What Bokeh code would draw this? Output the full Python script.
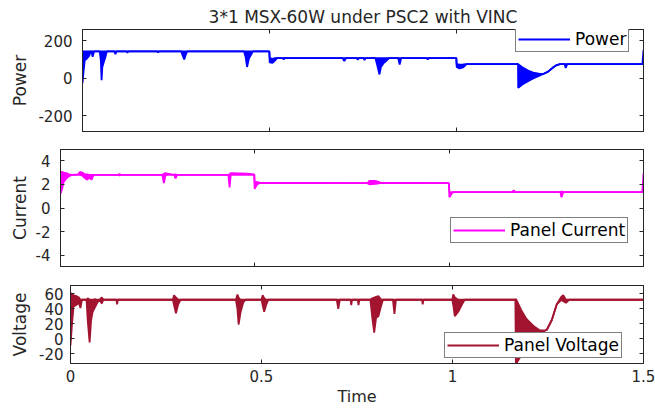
from bokeh.plotting import figure
from bokeh.models import (Range1d, LinearAxis, Legend, LegendItem, FixedTicker,
                          NumeralTickFormatter, ColumnDataSource)
from bokeh.layouts import column, row
from bokeh.embed import file_html
from bokeh.resources import INLINE

# ---------------- data ----------------
title_text = "3*1 MSX-60W under PSC2 with VINC"
time_ticks = [0, 0.5, 1, 1.5]
power_ticks = [-200, 0, 200]
current_ticks = [-4, -2, 0, 2, 4]
voltage_ticks = [-20, 0, 20, 40, 60]

# Each signal: sample times with the upper and lower envelope of the trace
power_t = [0.000, 0.003, 0.006, 0.012, 0.018, 0.022, 0.024, 0.027, 0.031, 0.046,
           0.049, 0.051, 0.053, 0.057, 0.061, 0.065, 0.085, 0.088, 0.091, 0.118,
           0.120, 0.122, 0.200, 0.202, 0.204, 0.264, 0.268, 0.272, 0.276, 0.280,
           0.432, 0.436, 0.440, 0.445, 0.452, 0.456, 0.4995, 0.5005, 0.508, 0.515,
           0.520, 0.536, 0.538, 0.540, 0.695, 0.700, 0.705, 0.733, 0.736, 0.739,
           0.751, 0.754, 0.757, 0.783, 0.788, 0.794, 0.798, 0.805, 0.812, 0.820,
           0.844, 0.848, 0.852, 0.920, 0.923, 0.926, 0.9995, 1.0005, 1.008, 1.018,
           1.027, 1.1645, 1.165, 1.175, 1.190, 1.205, 1.220, 1.232, 1.245, 1.259,
           1.268, 1.277, 1.289, 1.292, 1.296, 1.497, 1.500]
power_hi = [143, 143, 143, 143, 143, 143, 143, 143, 143, 143,
            143, 143, 143, 143, 143, 143, 143, 143, 143, 143,
            143, 143, 143, 143, 143, 143, 143, 143, 143, 143,
            143, 143, 143, 143, 143, 143, 143, 107, 103, 107,
            107, 107, 107, 107, 107, 107, 107, 107, 107, 107,
            107, 107, 107, 107, 107, 107, 107, 107, 107, 107,
            107, 107, 107, 107, 107, 107, 107, 75, 72, 73,
            75, 75, 75, 60, 42, 30, 24, 22, 35, 58,
            70, 75, 75, 75, 75, 75, 150]
power_lo = [-27, 40, 95, 105, 120, 143, 143, 114, 143, 143,
            95, -11, 60, 87, 110, 143, 143, 128, 143, 143,
            135, 143, 143, 137, 143, 143, 120, 100, 125, 143,
            143, 115, 60, 105, 130, 143, 143, 84, 82, 95,
            107, 107, 100, 107, 107, 91, 107, 107, 98, 107,
            107, 97, 107, 107, 70, 20, 60, 80, 92, 107,
            107, 73, 107, 107, 100, 107, 107, 60, 52, 58,
            75, 75, -52, -35, -18, -2, 12, 22, 35, 58,
            70, 75, 75, 55, 75, 75, 75]

current_t = [0.000, 0.004, 0.008, 0.015, 0.022, 0.030, 0.045, 0.050, 0.056, 0.062,
             0.068, 0.075, 0.080, 0.085, 0.150, 0.152, 0.154, 0.262, 0.266, 0.270,
             0.275, 0.293, 0.296, 0.300, 0.432, 0.435, 0.438, 0.480, 0.4985, 0.4995,
             0.506, 0.512, 0.790, 0.795, 0.810, 0.823, 0.9995, 1.0005, 1.007, 1.012,
             1.163, 1.166, 1.170, 1.286, 1.289, 1.293, 1.297, 1.497, 1.500]
current_hi = [3.05, 3.05, 3.00, 2.95, 2.85, 2.80, 2.85, 3.05, 3.00, 2.85,
              2.85, 2.80, 2.80, 2.80, 2.80, 2.90, 2.80, 2.80, 2.90, 2.95,
              2.90, 2.80, 2.85, 2.80, 2.80, 2.85, 2.95, 2.90, 2.85, 2.15,
              2.20, 2.15, 2.10, 2.30, 2.30, 2.15, 2.10, 1.35, 1.35, 1.35,
              1.35, 1.50, 1.35, 1.35, 1.40, 1.35, 1.35, 1.35, 2.93]
current_lo = [1.20, 1.60, 2.20, 2.50, 2.70, 2.80, 2.80, 2.80, 2.75, 2.55,
              2.40, 2.55, 2.40, 2.80, 2.80, 2.75, 2.80, 2.80, 2.10, 2.75,
              2.80, 2.80, 2.50, 2.80, 2.80, 1.75, 2.80, 2.80, 2.80, 1.62,
              2.00, 2.10, 2.10, 2.00, 2.05, 2.10, 2.10, 0.91, 1.25, 1.35,
              1.35, 1.35, 1.35, 1.35, 0.91, 1.30, 1.35, 1.35, 1.35]

voltage_t = [0.000, 0.004, 0.008, 0.015, 0.022, 0.026, 0.030, 0.042, 0.045, 0.050,
             0.054, 0.058, 0.064, 0.070, 0.076, 0.082, 0.086, 0.120, 0.122, 0.124,
             0.268, 0.271, 0.276, 0.282, 0.288, 0.433, 0.437, 0.440, 0.445, 0.452,
             0.458, 0.500, 0.503, 0.507, 0.512, 0.518, 0.697, 0.701, 0.705, 0.733,
             0.735, 0.737, 0.752, 0.754, 0.756, 0.785, 0.790, 0.795, 0.800, 0.806,
             0.812, 0.818, 0.844, 0.848, 0.852, 0.920, 0.922, 0.924, 0.9995, 1.002,
             1.006, 1.015, 1.025, 1.032, 1.1645, 1.166, 1.180, 1.194, 1.212, 1.229,
             1.240, 1.247, 1.260, 1.273, 1.285, 1.290, 1.297, 1.305, 1.500]
voltage_hi = [61, 60, 58, 57, 55, 52, 52, 52, 54, 52,
              52, 52, 53, 52, 52, 55, 52, 52, 52, 52,
              52, 58, 55, 52, 52, 52, 59, 55, 52, 52,
              52, 52, 58, 54, 52, 52, 52, 52, 52, 52,
              52, 52, 52, 52, 52, 52, 54, 55, 56, 57,
              53, 52, 52, 52, 52, 52, 52, 52, 52, 59,
              55, 52, 52, 52, 52, 53, 38, 26, 17, 11,
              11, 12, 25, 46, 56, 58, 52, 52, 52]
voltage_lo = [-9, 20, 43, 45, 48, 41, 52, 52, 25, -5,
              25, 36, 42, 48, 52, 47, 52, 52, 46, 52,
              52, 45, 34, 46, 52, 52, 40, 19, 35, 48,
              52, 52, 45, 36, 45, 52, 52, 40, 52, 52,
              45, 52, 52, 45, 52, 52, 28, 8, 28, 30,
              42, 52, 52, 33, 52, 52, 46, 52, 52, 45,
              30, 36, 46, 52, 52, -34, -22, -12, -3, 4,
              10, 12, 25, 46, 52, 50, 48, 52, 52]

# ---------------- styling ----------------
FONT = "DejaVu Sans"
INK = "#262626"
W = 655


def inner_axis(ticks):
    """Tick-only axis for the top/right edges of a boxed panel."""
    return LinearAxis(ticker=FixedTicker(ticks=ticks, minor_ticks=[]),
                      major_tick_in=4, major_tick_out=0,
                      major_label_text_color=None,
                      major_label_text_font_size="1px",
                      major_label_standoff=0, axis_line_color=INK,
                      major_tick_line_color=INK)


def panel(height, borders, yrange, yticks, t, hi, lo, color, ylabel,
          legend_label, legend_xy, ylabel_standoff, ytick_standoff,
          show_time=False):
    left, right, top, bottom = borders
    p = figure(width=W, height=height, x_range=Range1d(0, 1.5),
               y_range=Range1d(*yrange), output_backend="svg",
               toolbar_location=None, min_border_left=left,
               min_border_right=right, min_border_top=top,
               min_border_bottom=bottom)
    p.grid.visible = False
    p.outline_line_color = INK
    p.background_fill_color = "white"
    p.border_fill_color = "white"

    src = ColumnDataSource(dict(t=t, hi=hi, lo=lo))
    p.varea(x="t", y1="lo", y2="hi", source=src, fill_color=color)
    r = p.line("t", "hi", source=src, line_color=color, line_width=1.8)
    p.line("t", "lo", source=src, line_color=color, line_width=1.8)

    xa = p.xaxis[0]
    xa.ticker = FixedTicker(ticks=time_ticks, minor_ticks=[])
    xa.formatter = NumeralTickFormatter(format="0.[0]")
    xa.major_tick_in = 4
    xa.major_tick_out = 0
    xa.axis_line_color = INK
    xa.major_tick_line_color = INK
    if show_time:
        xa.axis_label = "Time"
        xa.axis_label_text_font = FONT
        xa.axis_label_text_font_size = "16px"
        xa.axis_label_text_font_style = "normal"
        xa.axis_label_text_color = INK
        xa.axis_label_standoff = 2
        xa.major_label_text_font = FONT
        xa.major_label_text_font_size = "15px"
        xa.major_label_text_color = INK
        xa.major_label_standoff = 6
    else:
        xa.major_label_text_color = None
        xa.major_label_text_font_size = "1px"
        xa.major_label_standoff = 0

    ya = p.yaxis[0]
    ya.ticker = FixedTicker(ticks=yticks, minor_ticks=[])
    ya.formatter = NumeralTickFormatter(format="0")
    ya.major_tick_in = 4
    ya.major_tick_out = 0
    ya.axis_line_color = INK
    ya.major_tick_line_color = INK
    ya.major_label_text_font = FONT
    ya.major_label_text_font_size = "15px"
    ya.major_label_text_color = INK
    ya.major_label_standoff = ytick_standoff
    ya.axis_label = ylabel
    ya.axis_label_text_font = FONT
    ya.axis_label_text_font_size = "17px"
    ya.axis_label_text_font_style = "normal"
    ya.axis_label_text_color = INK
    ya.axis_label_standoff = ylabel_standoff

    p.add_layout(inner_axis(yticks), "right")
    p.add_layout(inner_axis(time_ticks), "above")

    leg = Legend(items=[LegendItem(label=legend_label, renderers=[r])],
                 location=legend_xy, orientation="vertical",
                 border_line_color="black", border_line_width=1,
                 background_fill_color="white", background_fill_alpha=1.0,
                 label_text_font=FONT, label_text_font_size="17px",
                 label_text_color="black", glyph_width=52, glyph_height=18,
                 label_height=18, label_standoff=5, padding=2, margin=0,
                 spacing=0)
    p.add_layout(leg)
    return p


p1 = panel(140, (82, 12, 29, 9), (-285, 260), power_ticks,
           power_t, power_hi, power_lo, "#0000FF", "Power", "Power",
           (433, 79), 5, 10)
p1.title.text = title_text
p1.title.align = "center"
p1.title.text_font = FONT
p1.title.text_font_size = "17px"
p1.title.text_font_style = "normal"
p1.title.text_color = INK
p1.title.standoff = 5

p2 = panel(135, (60, 12, 9, 9), (-4.95, 4.95), current_ticks,
           current_t, current_hi, current_lo, "#FF00FF", "Current",
           "Panel Current", (390, 23), 3, 10)

p3 = panel(133, (70, 12, 10, 45), (-33, 71), voltage_ticks,
           voltage_t, voltage_hi, voltage_lo, "#A2142F", "Voltage",
           "Panel Voltage", (374, 5), 6, 7, show_time=True)

# each panel sits in its own row so the frames keep their own left edges
layout = column(row(p1), row(p2), row(p3), spacing=0)

with open("out.html", "w") as f:
    f.write(file_html(layout, INLINE))
